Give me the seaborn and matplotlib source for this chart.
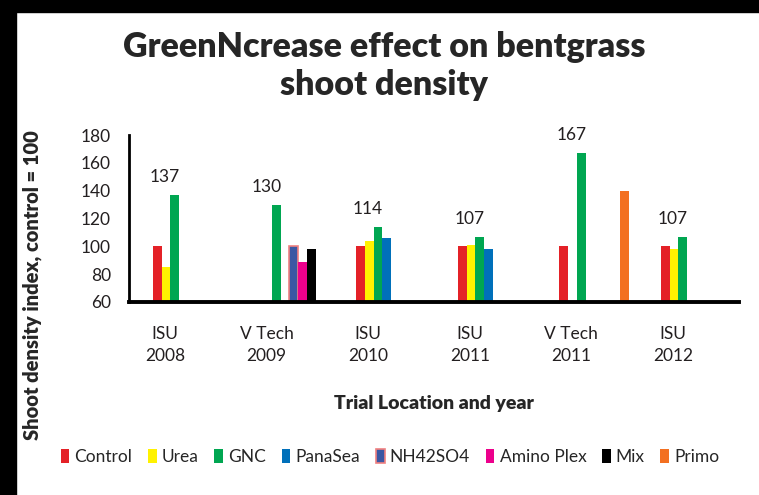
import pandas as pd
import matplotlib.pyplot as plt
import seaborn as sns
from matplotlib.patches import Rectangle

# data
trials = ["ISU\n2008", "V Tech\n2009", "ISU\n2010", "ISU\n2011", "V Tech\n2011", "ISU\n2012"]
treatments = ["Control", "Urea", "GNC", "PanaSea", "NH42SO4", "Amino Plex", "Mix", "Primo"]
colors = ["#E42127", "#FFF200", "#00A651", "#0070BA", "#3B57A3", "#EC008C", "#000000", "#F37021"]

control = [100, None, 100, 100, 100, 100]
urea = [85, None, 104, 101, None, 98]
gnc = [137, 130, 114, 107, 167, 107]
panasea = [None, None, 106, 98, None, None]
nh42so4 = [None, 100, None, None, None, None]
amino_plex = [None, 89, None, None, None, None]
mix = [None, 98, None, None, None, None]
primo = [None, None, None, None, 140, None]

series = [control, urea, gnc, panasea, nh42so4, amino_plex, mix, primo]
rows = []
for name, vals in zip(treatments, series):
    for t, v in zip(trials, vals):
        if v is not None:
            rows.append({"trial": t, "treatment": name, "index": v})
df = pd.DataFrame(rows)

sns.set_style("white")
plt.rcParams["font.family"] = ["Lato", "DejaVu Sans"]

fig = plt.figure(figsize=(7.59, 4.95), dpi=100)
ax = fig.add_axes([129 / 759, 1 - 302 / 495, 610 / 759, 167 / 495])

sns.barplot(data=df, x="trial", y="index", hue="treatment", order=trials,
            hue_order=treatments, palette=colors, width=0.685, errorbar=None,
            linewidth=0, saturation=1, ax=ax)

# NH42SO4 bars have a red outline
for p in ax.containers[treatments.index("NH42SO4")]:
    p.set_edgecolor("#F08080")
    p.set_linewidth(1.2)

ax.set_ylim(60, 180)
ax.set_yticks(range(60, 181, 20))
ax.set_xlim(-0.579, 5.425)
shift = -0.225
ax.set_xticks([i + shift for i in range(len(trials))])
ax.set_xticklabels(trials, fontsize=12.5, linespacing=1.5, color="#231F20")
ax.tick_params(axis="x", length=0, pad=17)
ax.tick_params(axis="y", length=0, pad=13, labelsize=12.5, labelcolor="#231F20")

for s in ["top", "right"]:
    ax.spines[s].set_visible(False)
ax.spines["left"].set_linewidth(2)
ax.spines["bottom"].set_linewidth(2.8)
ax.spines["left"].set_color("black")
ax.spines["bottom"].set_color("black")

# GNC value labels
for i, v in enumerate(gnc):
    ax.annotate(str(v), (i + shift, v), xytext=(0, 13), textcoords="offset points",
                ha="center", va="center", fontsize=12.5, color="#231F20")

ax.set_xlabel("Trial Location and year", fontsize=14, fontweight="heavy")
ax.set_ylabel("Shoot density index, control = 100", fontsize=14.5, fontweight="heavy")
ax.yaxis.set_label_coords(-0.143, 0.1)
ax.xaxis.set_label_coords(0.5, -0.555)

handles, labels = ax.get_legend_handles_labels()
leg = ax.legend(handles, labels, loc="center", bbox_to_anchor=(390 / 759, 1 - 457 / 495),
                bbox_transform=fig.transFigure, ncol=8, frameon=False, fontsize=12.5,
                handlelength=0.5, handleheight=0.8, handletextpad=0.3, columnspacing=0.9,
                borderpad=0)
for h, l in zip(leg.legend_handles, labels):
    h.set_linewidth(0)
    if l == "NH42SO4":
        h.set_edgecolor("#F08080")
        h.set_linewidth(1.2)

fig.text(384 / 759, 1 - 66 / 495, "GreenNcrease effect on bentgrass\nshoot density",
         ha="center", va="center", fontsize=24.5, fontweight="heavy", linespacing=1.2)

# black border strips of the original screenshot
fig.add_artist(Rectangle((0, 0), 16 / 759, 1, transform=fig.transFigure, color="black"))
fig.add_artist(Rectangle((0, 1 - 12 / 495), 1, 12 / 495, transform=fig.transFigure, color="black"))

fig.savefig("out.png", dpi=100)
